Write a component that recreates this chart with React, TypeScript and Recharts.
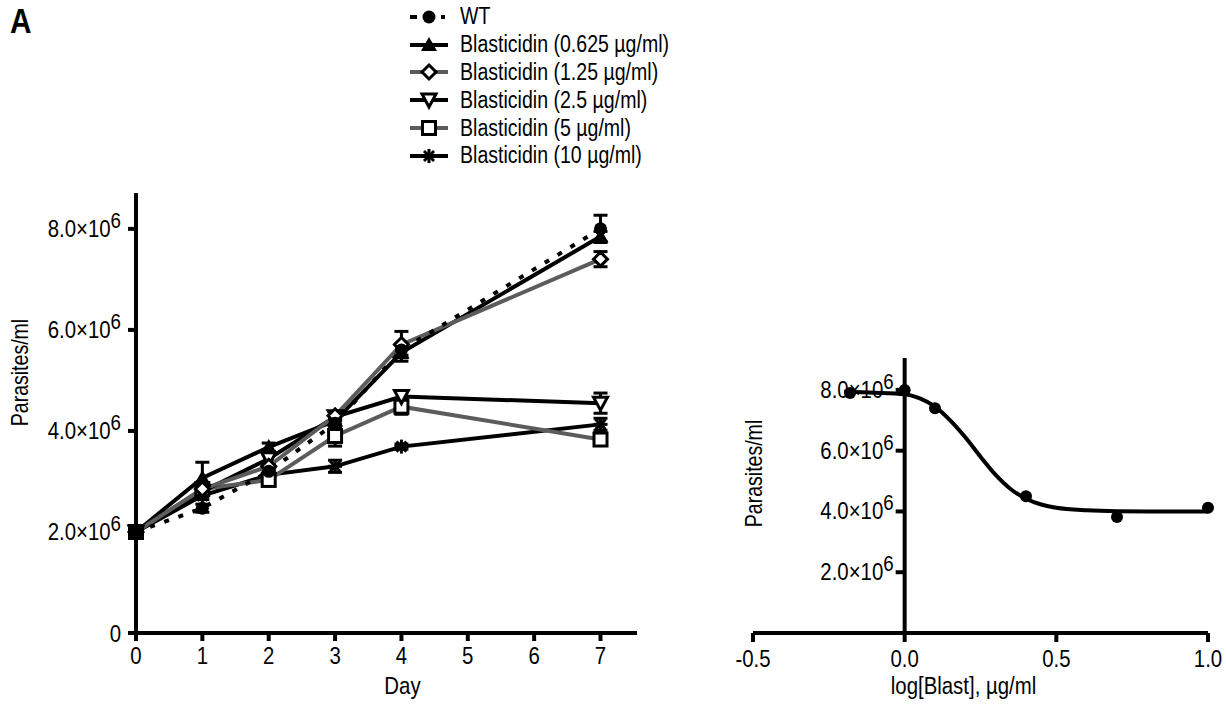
import React from 'react';
import {
  LineChart,
  Line,
  XAxis,
  YAxis,
  ErrorBar,
  Legend,
  ComposedChart,
  Scatter,
  ReferenceLine,
  ReferenceDot,
} from 'recharts';

const FONT = "'Liberation Sans', Arial, sans-serif";
const NARROW = 0.85; // squeeze regular sans to look like the narrow face in the figure
const GRAY = '#5c5c5c';

// growth curves (panel left)
const days = [0, 1, 2, 3, 4, 7];
const wtCounts = [2.0e6, 2.47e6, 3.2e6, 4.15e6, 5.6e6, 8.0e6];
const wtErr = [0.05e6, 0.08e6, 0.08e6, 0.08e6, 0.1e6, 0.27e6];
const b0625Counts = [2.0e6, 3.07e6, 3.68e6, 4.2e6, 5.55e6, 7.85e6];
const b0625Err = [0.05e6, 0.31e6, 0.08e6, 0.08e6, 0.17e6, 0.1e6];
const b125Counts = [2.0e6, 2.85e6, 3.3e6, 4.3e6, 5.71e6, 7.4e6];
const b125Err = [0.05e6, 0.1e6, 0.08e6, 0.08e6, 0.26e6, 0.15e6];
const b25Counts = [2.0e6, 2.8e6, 3.45e6, 4.28e6, 4.68e6, 4.55e6];
const b25Err = [0.05e6, 0.1e6, 0.1e6, 0.08e6, 0.12e6, 0.2e6];
const b5Counts = [2.0e6, 2.85e6, 3.03e6, 3.9e6, 4.48e6, 3.83e6];
const b5Err = [0.05e6, 0.08e6, 0.1e6, 0.2e6, 0.15e6, 0.1e6];
const b10Counts = [2.0e6, 2.72e6, 3.13e6, 3.3e6, 3.69e6, 4.13e6];
const b10Err = [0.05e6, 0.08e6, 0.08e6, 0.12e6, 0.05e6, 0.12e6];
const dayTicks = [0, 1, 2, 3, 4, 5, 6, 7];
const countTicks = [0, 2e6, 4e6, 6e6, 8e6];

// dose response (panel right)
const logBlast = [-0.18, 0, 0.1, 0.4, 0.7, 1.0];
const day7Counts = [7.9e6, 8.0e6, 7.4e6, 4.5e6, 3.82e6, 4.12e6];
const fitLog = [-0.2, -0.1, 0, 0.05, 0.1, 0.15, 0.2, 0.25, 0.3, 0.35, 0.4, 0.45, 0.5, 0.6, 0.7, 0.85, 1.0];
const fitCounts = [
  7.94e6, 7.91e6, 7.86e6, 7.72e6, 7.45e6, 7.0e6, 6.44e6, 5.8e6, 5.2e6, 4.73e6, 4.42e6, 4.23e6, 4.12e6,
  4.04e6, 4.01e6, 4.0e6, 4.0e6,
];
const logTicks = [-0.5, 0, 0.5, 1.0];
const doseTicks = [2e6, 4e6, 6e6, 8e6];

type MarkerKind = 'circle' | 'triUp' | 'diamond' | 'triDown' | 'square' | 'star';

const series = [
  { key: 'wt', name: 'WT', values: wtCounts, errs: wtErr, stroke: '#000', dash: '5 10', legendDash: '7 6 12 6 4 10', marker: 'circle' as MarkerKind },
  { key: 'b0625', name: 'Blasticidin (0.625 µg/ml)', values: b0625Counts, errs: b0625Err, stroke: '#000', dash: undefined, legendDash: undefined, marker: 'triUp' as MarkerKind },
  { key: 'b125', name: 'Blasticidin (1.25 µg/ml)', values: b125Counts, errs: b125Err, stroke: GRAY, dash: undefined, legendDash: undefined, marker: 'diamond' as MarkerKind },
  { key: 'b25', name: 'Blasticidin (2.5 µg/ml)', values: b25Counts, errs: b25Err, stroke: '#000', dash: undefined, legendDash: undefined, marker: 'triDown' as MarkerKind },
  { key: 'b5', name: 'Blasticidin (5 µg/ml)', values: b5Counts, errs: b5Err, stroke: GRAY, dash: undefined, legendDash: undefined, marker: 'square' as MarkerKind },
  { key: 'b10', name: 'Blasticidin (10 µg/ml)', values: b10Counts, errs: b10Err, stroke: '#000', dash: undefined, legendDash: undefined, marker: 'star' as MarkerKind },
];
const drawOrder = ['b10', 'b5', 'b25', 'b0625', 'b125', 'wt'];

const growthRows = days.map((d, i) => {
  const row: any = { day: d };
  series.forEach((s) => {
    row[s.key] = s.values[i];
    row[s.key + 'Err'] = s.errs[i];
  });
  return row;
});
const pointRows = logBlast.map((x, i) => ({ x, y: day7Counts[i] }));
const fitRows = fitLog.map((x, i) => ({ x, y: fitCounts[i] }));

function Marker({ kind, cx, cy }: { kind: MarkerKind; cx: number; cy: number }) {
  if (cx == null || cy == null) return null;
  switch (kind) {
    case 'circle':
      return <circle cx={cx} cy={cy} r={6.5} fill="#000" />;
    case 'triUp':
      return <polygon points={`${cx},${cy - 8} ${cx + 8},${cy + 6} ${cx - 8},${cy + 6}`} fill="#000" />;
    case 'diamond':
      return (
        <polygon
          points={`${cx},${cy - 7} ${cx + 7},${cy} ${cx},${cy + 7} ${cx - 7},${cy}`}
          fill="#fff"
          stroke="#000"
          strokeWidth={3}
        />
      );
    case 'triDown':
      return (
        <polygon
          points={`${cx - 7},${cy - 6} ${cx + 7},${cy - 6} ${cx},${cy + 7}`}
          fill="#fff"
          stroke="#000"
          strokeWidth={3}
        />
      );
    case 'square':
      return <rect x={cx - 6.5} y={cy - 6.5} width={13} height={13} fill="#fff" stroke="#000" strokeWidth={3} />;
    case 'star':
      return (
        <g stroke="#000" strokeWidth={3}>
          <line x1={cx - 7} y1={cy} x2={cx + 7} y2={cy} />
          <line x1={cx} y1={cy - 7} x2={cx} y2={cy + 7} />
          <line x1={cx - 5} y1={cy - 5} x2={cx + 5} y2={cy + 5} />
          <line x1={cx - 5} y1={cy + 5} x2={cx + 5} y2={cy - 5} />
        </g>
      );
  }
  return null;
}

function NText({ x, y, anchor = 'start', size = 24, weight, rotate, children }: any) {
  const t = `translate(${x} ${y})${rotate ? ` rotate(${rotate})` : ''} scale(${NARROW} 1)`;
  return (
    <text transform={t} x={0} y={0} textAnchor={anchor} fontFamily={FONT} fontSize={size} fontWeight={weight} fill="#000">
      {children}
    </text>
  );
}

function sciLabel(v: number, x: number, y: number) {
  if (v === 0) {
    return (
      <NText x={x} y={y + 9} anchor="end">
        0
      </NText>
    );
  }
  return (
    <NText x={x} y={y + 8} anchor="end">
      {(v / 1e6).toFixed(1)}×10
      <tspan fontSize={22} dy={-9}>
        6
      </tspan>
    </NText>
  );
}

function SciTick(props: any) {
  return sciLabel(props.payload.value, props.x, props.y);
}

function XTick(props: any) {
  const v = props.payload.value;
  const txt = props.decimals ? Number(v).toFixed(1) : String(v);
  return (
    <NText x={props.x} y={props.y + 17} anchor="middle">
      {txt}
    </NText>
  );
}

function LegendBlock() {
  return (
    <div style={{ fontFamily: FONT, fontSize: 23, color: '#000' }}>
      {series.map((s) => (
        <div key={s.key} style={{ display: 'flex', alignItems: 'center', height: 27.8 }}>
          <svg width={38} height={24} style={{ display: 'block' }}>
            <line
              x1={0}
              x2={38}
              y1={12}
              y2={12}
              stroke={s.stroke}
              strokeWidth={4}
              strokeDasharray={s.legendDash}
            />
            <Marker kind={s.marker} cx={19} cy={12} />
          </svg>
          <span
            style={{
              marginLeft: 12,
              whiteSpace: 'nowrap',
              display: 'inline-block',
              transform: `scaleX(${NARROW})`,
              transformOrigin: 'left center',
            }}
          >
            {s.name}
          </span>
        </div>
      ))}
    </div>
  );
}

const axisStyle = { stroke: '#000', strokeWidth: 4 };

export default function App() {
  return (
    <div style={{ position: 'absolute', left: 0, top: 0, width: 1226, height: 711, background: '#fff' }}>
      <svg width={60} height={50} style={{ position: 'absolute', left: 0, top: 0 }}>
        <NText x={10} y={33} size={35} weight="bold">
          A
        </NText>
      </svg>

      <div style={{ position: 'absolute', left: 0, top: 0 }}>
        <LineChart width={660} height={711} data={growthRows} margin={{ top: 193, right: 23, bottom: 0, left: 0 }}>
          <XAxis
            dataKey="day"
            type="number"
            domain={[0, 7.55]}
            ticks={dayTicks}
            interval={0}
            height={78}
            axisLine={axisStyle}
            tickLine={axisStyle}
            tickSize={8}
            tickMargin={6}
            tick={<XTick />}
            label={{
              content: (p: any) => (
                <NText x={p.viewBox.x + p.viewBox.width / 2 + 16} y={p.viewBox.y + 61} anchor="middle">
                  Day
                </NText>
              ),
            }}
          />
          <YAxis
            type="number"
            domain={[0, 8.71e6]}
            ticks={countTicks}
            interval={0}
            width={136}
            axisLine={axisStyle}
            tickLine={axisStyle}
            tickSize={8}
            tickMargin={7}
            tick={<SciTick />}
            label={{
              content: (p: any) => (
                <NText x={28} y={p.viewBox.y + p.viewBox.height * 0.408} anchor="middle" size={23} rotate={-90}>
                  Parasites/ml
                </NText>
              ),
            }}
          />
          <Legend
            layout="vertical"
            align="center"
            verticalAlign="middle"
            wrapperStyle={{ top: 3, left: 410, width: 330 }}
            content={() => <LegendBlock />}
          />
          {drawOrder.map((k) => {
            const s = series.find((it) => it.key === k)!;
            return (
              <Line
                key={s.key}
                dataKey={s.key}
                name={s.name}
                type="linear"
                stroke={s.stroke}
                strokeWidth={4}
                strokeDasharray={s.dash}
                isAnimationActive={false}
                dot={(p: any) => <Marker key={`${s.key}-${p.index}`} kind={s.marker} cx={p.cx} cy={p.cy} />}
                activeDot={false}
              >
                <ErrorBar dataKey={s.key + 'Err'} width={7} strokeWidth={3} stroke="#000" direction="y" />
              </Line>
            );
          })}
        </LineChart>
      </div>

      <div style={{ position: 'absolute', left: 700, top: 0 }}>
        <ComposedChart width={526} height={711} margin={{ top: 358, right: 18, bottom: 0, left: 53 }}>
          <XAxis
            dataKey="x"
            type="number"
            domain={[-0.5, 1.0]}
            ticks={logTicks}
            interval={0}
            height={78}
            axisLine={axisStyle}
            tickLine={axisStyle}
            tickSize={9}
            tickMargin={8}
            tick={<XTick decimals />}
            label={{
              content: (p: any) => (
                <NText x={p.viewBox.x + p.viewBox.width / 2 - 17} y={p.viewBox.y + 61} anchor="middle">
                  log[Blast], µg/ml
                </NText>
              ),
            }}
          />
          <YAxis type="number" dataKey="y" domain={[0, 9.05e6]} hide />
          <ReferenceLine
            x={-0.5}
            stroke="none"
            label={{
              content: (p: any) => (
                <NText
                  x={p.viewBox.x + 9}
                  y={p.viewBox.y + p.viewBox.height * 0.42}
                  anchor="middle"
                  size={23}
                  rotate={-90}
                >
                  Parasites/ml
                </NText>
              ),
            }}
          />
          <ReferenceLine x={0} stroke="#000" strokeWidth={4} />
          {doseTicks.map((v) => (
            <ReferenceDot
              key={v}
              x={0}
              y={v}
              shape={(p: any) => (
                <g>
                  <line x1={p.cx - 9} x2={p.cx} y1={p.cy} y2={p.cy} stroke="#000" strokeWidth={4} />
                  {sciLabel(v, p.cx - 11, p.cy)}
                </g>
              )}
            />
          ))}
          <Line
            data={fitRows}
            dataKey="y"
            type="monotone"
            stroke="#000"
            strokeWidth={4}
            dot={false}
            activeDot={false}
            isAnimationActive={false}
          />
          <Scatter
            data={pointRows}
            dataKey="y"
            isAnimationActive={false}
            shape={(p: any) => <circle cx={p.cx} cy={p.cy} r={6} fill="#000" />}
          />
        </ComposedChart>
      </div>
    </div>
  );
}
